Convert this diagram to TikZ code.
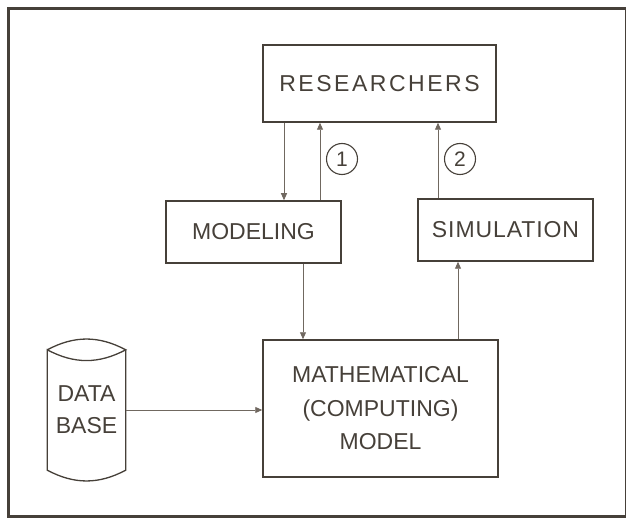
\documentclass[tikz,border=0pt]{standalone}
\usepackage{fontspec}
\setmainfont{Liberation Sans}
\usetikzlibrary{arrows.meta}

\definecolor{ink}{RGB}{70,64,57}
\definecolor{lightink}{RGB}{112,104,96}

\begin{document}
\begin{tikzpicture}[x=1pt, y=-1pt,
	blk/.style={draw=ink, line width=1.5pt, inner sep=0, text=ink},
	flow/.style={-{Triangle[length=7pt, width=6pt]}, lightink, line width=.9pt},
	num/.style={draw=ink, circle, line width=1.1pt, minimum size=31pt, inner sep=0, text=ink, font=\fontsize{21}{21}\selectfont},
	every node/.style={font=\fontsize{23}{33.5}\selectfont}
	]
	\useasboundingbox (0,0) rectangle (626,521);
	% outer frame
	\draw [ink, line width=3pt] (8,9) rectangle (626.5,516);

	\node (res) at (379.5,83.5) [blk, minimum width=233pt, minimum height=77pt,
		font=\fontsize{23}{26}\selectfont\addfontfeature{LetterSpace=11}] {RESEARCHERS};
	\node (mdl) at (253.5,232) [blk, minimum width=175pt, minimum height=62pt] {MODELING};
	\node (sim) at (505.5,230) [blk, minimum width=175pt, minimum height=62pt,
		font=\fontsize{23}{26}\selectfont\addfontfeature{LetterSpace=4}] {SIMULATION};
	\node (math) at (380.5,408.5) [blk, minimum width=235pt, minimum height=137pt, align=center]
		{MATHEMATICAL\\(COMPUTING)\\MODEL};

	% data base drum
	\node (db) at (86.5,410) [inner sep=0, minimum width=78pt, minimum height=120pt,
		align=center, text=ink, font=\fontsize{23}{32}\selectfont] {DATA\\BASE};
	\draw [ink, line width=1.3pt] (db.north west) to[bend left=28] (db.north east)
		to[bend left=28] (db.north west) -- (db.south west)
		to[bend right=28] (db.south east) -- (db.north east);

	% flows
	\coordinate (mdl in) at ([xshift=30.5pt]mdl.north);
	\coordinate (mdl out) at ([xshift=66.5pt]mdl.north);
	\coordinate (sim out) at ([xshift=-67.5pt]sim.north);
	\coordinate (math in) at ([xshift=-77.5pt]math.north);
	\coordinate (math out) at ([xshift=77.5pt]math.north);
	\draw [flow] (mdl in |- res.south) -- (mdl in);
	\draw [flow] (mdl out) -- (mdl out |- res.south);
	\draw [flow] (sim out) -- (sim out |- res.south);
	\draw [flow] (math in |- mdl.south) -- (math in);
	\draw [flow] (math out) -- (math out |- sim.south);
	\draw [flow] (db.east) -- (db.east -| math.west);

	\node (one) at (342,159) [num] {1};
	\node (two) at (460,159) [num] {2};
\end{tikzpicture}
\end{document}
